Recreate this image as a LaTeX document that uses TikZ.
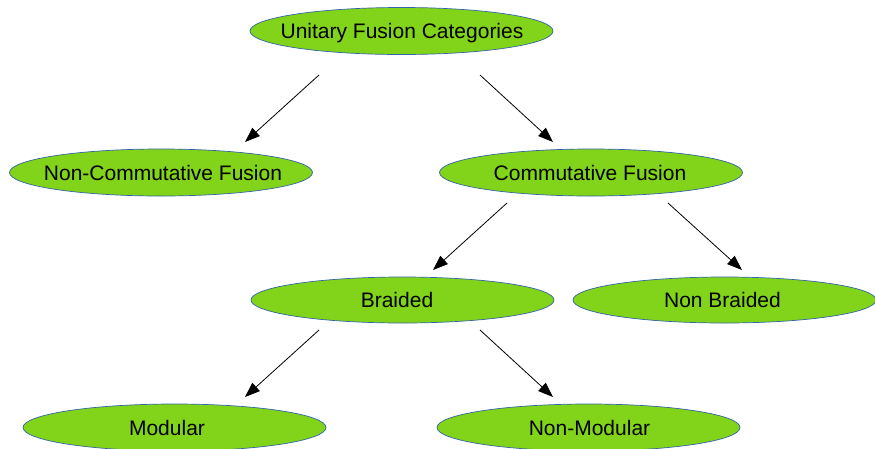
\documentclass[tikz,border=0pt]{standalone}
\usepackage{fontspec}
\setmainfont{Liberation Sans}
\usetikzlibrary{shapes.geometric,arrows.meta}
\definecolor{limefill}{HTML}{81D41A}
\definecolor{rimblue}{HTML}{3465A4}
% label of zero width, shifted sideways by #1
\newcommand\catlabel[2]{\makebox[0pt]{\kern#1\relax #2\kern-#1\relax}}
\begin{document}
\begin{tikzpicture}[x=1pt,y=-1pt,
  cat/.style={ellipse, draw=rimblue, fill=limefill, line width=0.7pt,
    inner sep=0pt, minimum width=303pt, minimum height=47pt,
    text height=15pt, text depth=0pt,
    font=\fontsize{21}{25}\selectfont},
  link/.style={draw=black, line width=0.8pt,
    -{Triangle[length=15pt,width=11pt]}}]
\useasboundingbox (0,0) rectangle (875,448);

% categories
\node[cat] (uf) at (401.5,31)   {\catlabel{0.5pt}{Unitary Fusion Categories}};
\node[cat] (nc) at (161,172.5)  {\catlabel{2pt}{Non-Commutative Fusion}};
\node[cat] (cf) at (591,172.5)  {\catlabel{-1pt}{Commutative Fusion}};
\node[cat, minimum height=46pt] (br) at (402.5,300) {\catlabel{-5.5pt}{Braided}};
\node[cat, minimum height=46pt] (nb) at (724.5,300) {\catlabel{-2pt}{Non Braided}};
\node[cat] (mo) at (174.5,427.5) {\catlabel{-7.5pt}{Modular}};
\node[cat] (nm) at (588.5,427.5) {\catlabel{1pt}{Non-Modular}};

% free-standing arrow ends
\coordinate (uf-l) at (319,75);  \coordinate (nc-t) at (245,142);
\coordinate (uf-r) at (480,75);  \coordinate (cf-t) at (553,142);
\coordinate (cf-l) at (507,203); \coordinate (br-t) at (433,270);
\coordinate (cf-r) at (668,203); \coordinate (nb-t) at (742,270);
\coordinate (br-l) at (319,330); \coordinate (mo-t) at (245,397);
\coordinate (br-r) at (480,330); \coordinate (nm-t) at (553,397);

\draw[link] (uf-l) -- (nc-t);
\draw[link] (uf-r) -- (cf-t);
\draw[link] (cf-l) -- (br-t);
\draw[link] (cf-r) -- (nb-t);
\draw[link] (br-l) -- (mo-t);
\draw[link] (br-r) -- (nm-t);
\end{tikzpicture}
\end{document}
